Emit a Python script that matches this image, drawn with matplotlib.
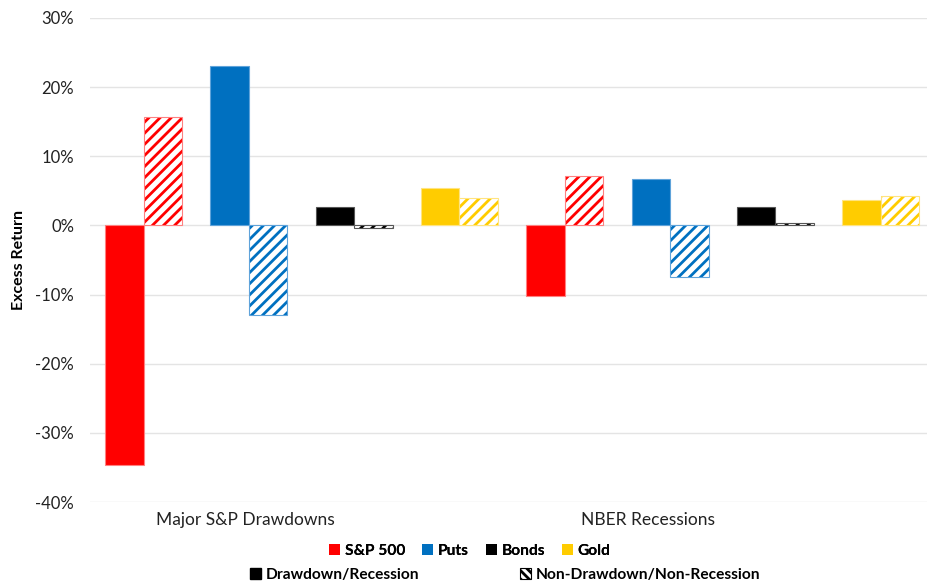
import matplotlib
matplotlib.use("Agg")
import matplotlib.pyplot as plt
from matplotlib.patches import Patch
import numpy as np

# ── Data ────────────────────────────────────────────────────────────────
groups = ["Major S&P Drawdowns", "NBER Recessions"]
assets = ["S&P 500", "Puts", "Bonds", "Gold"]
colors = ["#FF0000", "#0070C0", "#000000", "#FFCC00"]
edge_colors = ["#FF8080", "#5FA3DA", "#555555", "#FFE480"]

# excess return during drawdown / recession (solid bars)
stress_returns = [
    [-0.347, 0.231, 0.027, 0.054],   # Major S&P Drawdowns
    [-0.102, 0.067, 0.026, 0.037],   # NBER Recessions
]
# excess return outside drawdown / recession (hatched bars)
calm_returns = [
    [0.157, -0.130, -0.003, 0.039],
    [0.071, -0.074, 0.003, 0.042],
]
yticks = [-0.4, -0.3, -0.2, -0.1, 0.0, 0.1, 0.2, 0.3]
group_label_x = [0.97, 4.79]

# ── Figure ──────────────────────────────────────────────────────────────
plt.rcParams["font.family"] = ["Lato", "DejaVu Sans"]
plt.rcParams["hatch.linewidth"] = 2.0

fig = plt.figure(figsize=(9.27, 5.86), dpi=100)
ax = fig.add_axes([0.0971, 0.1433, 0.9029, 0.826])

w = 0.366
slot = 0
for g in range(len(groups)):
    for a in range(len(assets)):
        x = slot
        ax.bar(x - w / 2, stress_returns[g][a], w, color=colors[a],
               edgecolor=edge_colors[a], linewidth=0.8, zorder=3)
        # hatched bar: hatch drawn in the asset colour, light outline on top
        ax.bar(x + w / 2, calm_returns[g][a], w, facecolor="white",
               edgecolor=colors[a], hatch="///", linewidth=0, zorder=3)
        ax.bar(x + w / 2, calm_returns[g][a], w, facecolor="none",
               edgecolor=edge_colors[a], linewidth=0.8, zorder=4)
        slot += 1

ax.set_xlim(-0.508, 7.44)
ax.set_ylim(-0.4, 0.3)
ax.set_yticks(yticks)
ax.set_yticklabels([f"{int(round(t * 100))}%" for t in yticks], fontsize=12,
                   color="#222222")
ax.set_xticks([])
ax.grid(axis="y", color="#e4e4e4", linewidth=1.0, zorder=0)
for s in ax.spines.values():
    s.set_visible(False)
ax.tick_params(axis="y", length=0, pad=11.5)
ax.set_ylabel("Excess Return", fontsize=11.5, fontweight="bold")
ax.yaxis.set_label_coords(-0.077, 0.5)

for gx, name in zip(group_label_x, groups):
    ax.text(gx, -0.426, name, ha="center", va="center", fontsize=12.5,
            color="#222222", clip_on=False)

# ── Legends ─────────────────────────────────────────────────────────────
asset_handles = [Patch(facecolor=c, edgecolor="none") for c in colors]
leg1 = fig.legend(asset_handles, assets, loc="center", ncol=4,
                  bbox_to_anchor=(470 / 927, 1 - 551 / 586), frameon=False,
                  prop={"weight": "bold", "size": 11.2}, handlelength=0.7,
                  handleheight=0.7, handletextpad=0.3, columnspacing=1.1)
fig.add_artist(leg1)

type_handles = [Patch(facecolor="black", edgecolor="black"),
                Patch(facecolor="white", edgecolor="black", hatch="\\\\\\\\",
                      linewidth=0.8)]
fig.legend(type_handles, ["Drawdown/Recession", "Non-Drawdown/Non-Recession"],
           loc="center", ncol=2, bbox_to_anchor=(505 / 927, 1 - 575 / 586),
           frameon=False, prop={"weight": "bold", "size": 11.2},
           handlelength=0.7, handleheight=0.7, handletextpad=0.3,
           columnspacing=6.5)

fig.savefig("out.png", dpi=100)
